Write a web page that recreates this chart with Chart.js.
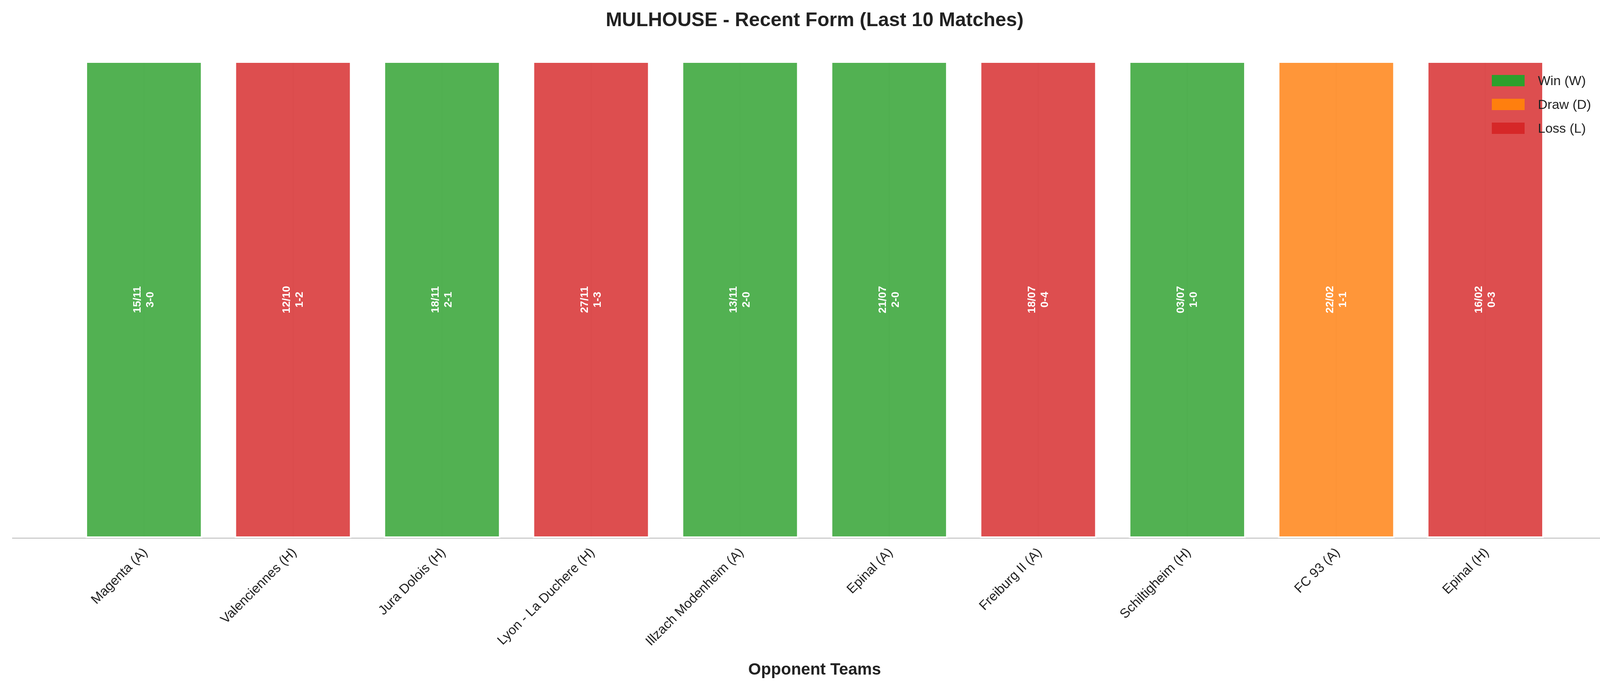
<!DOCTYPE html>
<html>
<head>
<meta charset="utf-8">
<script src="https://cdn.jsdelivr.net/npm/chart.js@4/dist/chart.umd.min.js"></script>
<style>
  html, body { margin: 0; padding: 0; background: #fff; }
  #wrap { width: 4170px; height: 1770px; }
</style>
</head>
<body>
<div id="wrap"><canvas id="chart_form" width="4170" height="1770"></canvas></div>
<script>
// données: 10 derniers matchs
const opponents = ['Magenta (A)', 'Valenciennes (H)', 'Jura Dolois (H)', 'Lyon - La Duchere (H)',
  'Illzach Modenheim (A)', 'Epinal (A)', 'Freiburg II (A)', 'Schiltigheim (H)', 'FC 93 (A)', 'Epinal (H)'];
const dates = ['15/11', '12/10', '18/11', '27/11', '13/11', '21/07', '18/07', '03/07', '22/02', '16/02'];
const scores = ['3-0', '1-2', '2-1', '1-3', '2-0', '2-0', '0-4', '1-0', '1-1', '0-3'];
const results = ['W', 'L', 'W', 'L', 'W', 'W', 'L', 'W', 'D', 'L'];
const barHeights = [1, 1, 1, 1, 1, 1, 1, 1, 1, 1];

const COLORS = { W: '#2ca02c', D: '#ff7f0e', L: '#d62728' };
const ALPHA = { W: 'rgba(44,160,44,0.82)', D: 'rgba(255,127,14,0.82)', L: 'rgba(214,39,40,0.82)' };
const legendItems = [['W', 'Win (W)'], ['D', 'Draw (D)'], ['L', 'Loss (L)']];
const FONT = '"Liberation Sans", Arial, sans-serif';

const decor = {
  id: 'decor',
  afterDraw(chart){
    const { ctx, chartArea, scales } = chart;
    ctx.save();
    ctx.fillStyle = '#222';
    ctx.font = `bold 50px ${FONT}`;
    ctx.textAlign = 'center';
    ctx.textBaseline = 'middle';
    ctx.fillText('MULHOUSE - Recent Form (Last 10 Matches)', (chartArea.left + chartArea.right) / 2, 53);
    ctx.font = `bold 42px ${FONT}`;
    ctx.fillText('Opponent Teams', (chartArea.left + chartArea.right) / 2, 1716);

    // étiquettes dans les barres
    const midY = (scales.y.getPixelForValue(0) + scales.y.getPixelForValue(1)) / 2;
    ctx.fillStyle = '#fff';
    ctx.font = `bold 28px ${FONT}`;
    dates.forEach((d, i) => {
      const x = scales.x.getPixelForValue(i);
      ctx.save();
      ctx.translate(x, midY);
      ctx.rotate(-Math.PI / 2);
      ctx.fillText(d, 0, -16);
      ctx.fillText(scores[i], 0, 17);
      ctx.restore();
    });

    // labels x à 45°
    ctx.fillStyle = '#222';
    ctx.font = `34px ${FONT}`;
    ctx.textAlign = 'right';
    ctx.textBaseline = 'middle';
    opponents.forEach((o, i) => {
      const x = scales.x.getPixelForValue(i);
      ctx.save();
      ctx.translate(x + 4, chartArea.bottom + 32);
      ctx.rotate(-Math.PI / 4);
      ctx.fillText(o, 0, 0);
      ctx.restore();
    });

    // légende
    ctx.textAlign = 'left';
    ctx.font = `34px ${FONT}`;
    legendItems.forEach(([k, label], j) => {
      const y = 207 + j * 61;
      ctx.fillStyle = COLORS[k];
      ctx.fillRect(3819, y - 15, 84, 29);
      ctx.fillStyle = '#222';
      ctx.fillText(label, 3937, y + 2);
    });
    ctx.restore();
  }
};

new Chart(document.getElementById('chart_form'), {
  type: 'bar',
  data: {
    datasets: [{
      data: barHeights.map((h, i) => ({ x: i, y: h })),
      backgroundColor: results.map(r => ALPHA[r]),
      borderColor: 'rgba(255,255,255,0.85)',
      borderWidth: 4,
      borderSkipped: false,
      barPercentage: 0.8,
      categoryPercentage: 0.98
    }]
  },
  options: {
    responsive: false,
    animation: false,
    devicePixelRatio: 1,
    layout: { padding: { top: 157, bottom: 392, left: 32, right: 31 } },
    plugins: { legend: { display: false }, tooltip: { enabled: false } },
    scales: {
      x: {
        type: 'linear',
        offset: false,
        min: -0.882,
        max: 9.882,
        afterBuildTicks(axis){ axis.ticks = opponents.map((_, i) => ({ value: i })); },
        ticks: { display: false },
        grid: { offset: false, color: 'rgba(0,0,0,0.06)', lineWidth: 3, drawTicks: false },
        border: { display: true, color: '#cccccc', width: 3 }
      },
      y: {
        min: 0,
        max: 1,
        display: false
      }
    }
  },
  plugins: [decor]
});
</script>
</body>
</html>
